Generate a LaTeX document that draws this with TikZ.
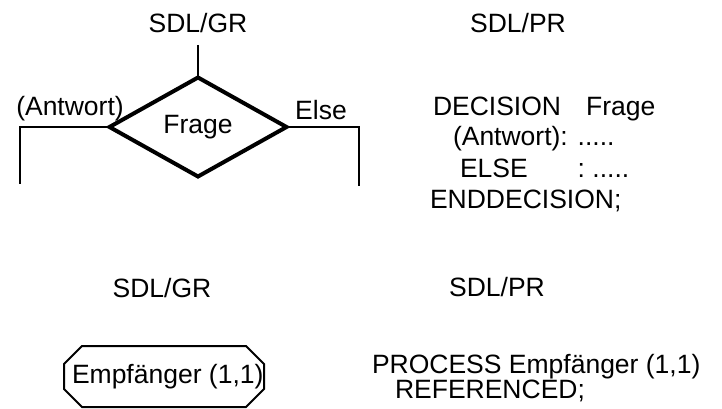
\documentclass[tikz,border=0pt]{standalone}
\usepackage{fontspec}
\setmainfont{Liberation Sans}
\usetikzlibrary{shapes.geometric, shapes.misc}

\begin{document}
\begin{tikzpicture}[
  x=1pt, y=-1pt,
  every node/.style={font=\fontsize{26.5}{31}\selectfont, inner sep=0pt, outer sep=0pt},
  lbl/.style={anchor=base},
  code/.style={anchor=base west},
  dec/.style={draw, shape=diamond, line width=4pt, minimum width=177pt, minimum height=99pt, aspect=1.79},
  proc/.style={draw, chamfered rectangle, chamfered rectangle xsep=9pt, chamfered rectangle ysep=9pt, line width=2pt, minimum height=61pt},
  wire/.style={line width=1.5pt},
]
  \useasboundingbox (0,0) rectangle (722,409);

  \node[lbl] (grtop) at (198,33) {SDL/GR};
  \node[dec] (frage) at (198,127) {Frage};
  \node[lbl] (antwort) at (70,115) {(Antwort)};
  \node[lbl] (else) at (321,120) {Else};
  \coordinate (top) at (198,45);
  \coordinate (antwortend) at (20,184);
  \coordinate (elseend) at (359,186);

  \draw[wire] (top) -- (frage.north);
  \draw[wire] (frage.west) -| (antwortend);
  \draw[wire] (frage.east) -| (elseend);

  \node[lbl] (prtop) at (518,33) {SDL/PR};
  \node[code] (decl) at (433,115) {DECISION\hspace{25pt}Frage};
  \node[code] (ans) at (453,146) {(Antwort): .....};
  \node[code] (els) at (460,177) {ELSE\hspace{50pt}: .....};
  \node[code] (enddec) at (430,208) {ENDDECISION;};

  \node[lbl] (grbot) at (162,297) {SDL/GR};
  \node[lbl] (prbot) at (497,296) {SDL/PR};
  \node[proc] (empf) at (164,376.5) {\makebox[182pt][l]{\hspace{-1pt}Empfänger (1,1)}};
  \node[code] (procl) at (372,373) {PROCESS Empfänger (1,1)};
  \node[code] (refl) at (395,398) {REFERENCED;};
\end{tikzpicture}
\end{document}
